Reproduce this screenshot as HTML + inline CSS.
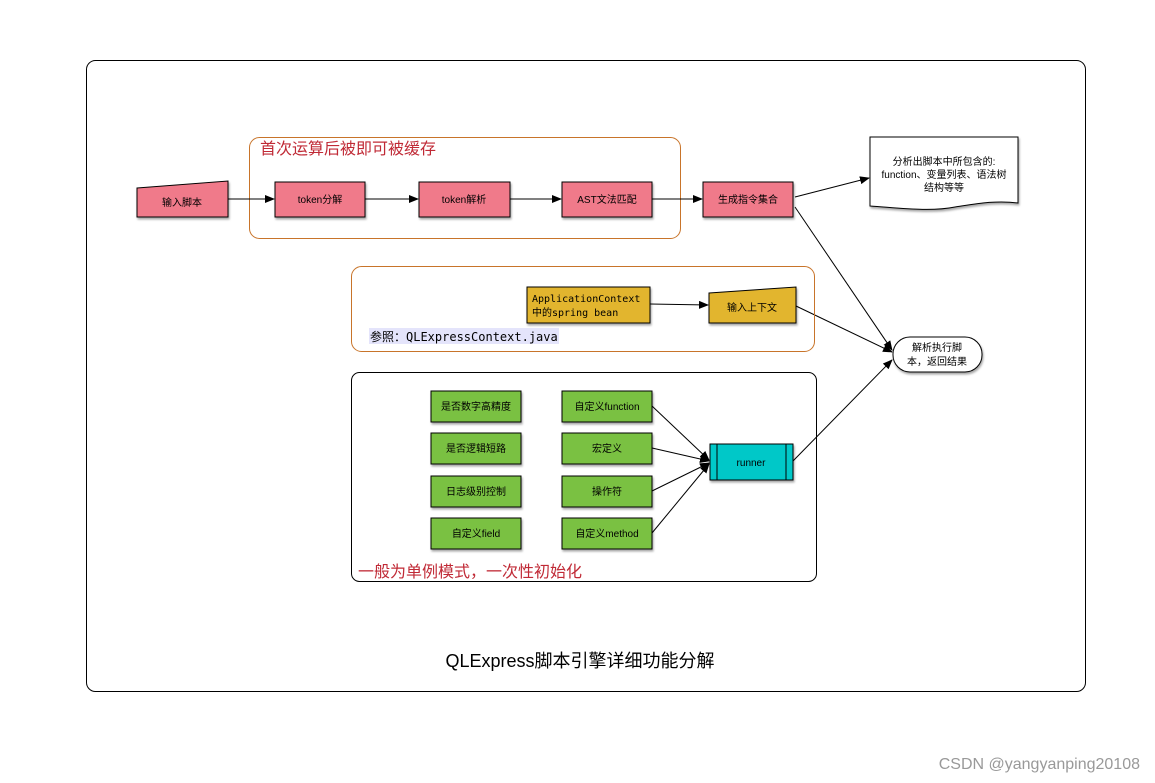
<!DOCTYPE html>
<html><head><meta charset="utf-8"><style>
html,body{margin:0;padding:0;background:#fff;width:1155px;height:783px;overflow:hidden}
text{font-family:"Liberation Sans","Noto Sans CJK SC",sans-serif}
</style></head><body>
<svg width="1155" height="783" viewBox="0 0 1155 783" xmlns="http://www.w3.org/2000/svg">
<defs>
<marker id="a" markerWidth="10" markerHeight="8" refX="9" refY="4" orient="auto" markerUnits="userSpaceOnUse"><path d="M0,0 L10,4 L0,8 z" fill="#000"/></marker>
<filter id="s" x="-10%" y="-10%" width="130%" height="140%"><feDropShadow dx="1" dy="2" stdDeviation="1" flood-color="#000" flood-opacity="0.35"/></filter>
</defs>
<rect x="86.5" y="60.5" width="999" height="631" rx="9" fill="none" stroke="#000" stroke-width="1"/>
<rect x="249.5" y="137.5" width="431" height="101" rx="10" fill="none" stroke="#c8742a" stroke-width="1"/>
<text x="260" y="154" font-size="16" fill="#c02a36">首次运算后被即可被缓存</text>

<g font-size="10" text-anchor="middle" fill="#000">
<path d="M137,188 L228,181 L228,217 L137,217 z" fill="#f07a8a" stroke="#000" filter="url(#s)"/>
<text x="182" y="206">输入脚本</text>
<rect x="275" y="182" width="90" height="35" fill="#f07a8a" stroke="#000" filter="url(#s)"/>
<text x="320" y="203">token分解</text>
<rect x="419" y="182" width="91" height="35" fill="#f07a8a" stroke="#000" filter="url(#s)"/>
<text x="464" y="203">token解析</text>
<rect x="562" y="182" width="90" height="35" fill="#f07a8a" stroke="#000" filter="url(#s)"/>
<text x="607" y="203">AST文法匹配</text>
<rect x="703" y="182" width="90" height="35" fill="#f07a8a" stroke="#000" filter="url(#s)"/>
<text x="748" y="203">生成指令集合</text>
</g>
<g stroke="#000" stroke-width="1" fill="none" marker-end="url(#a)">
<line x1="228" y1="199" x2="274" y2="199"/>
<line x1="365" y1="199" x2="418" y2="199"/>
<line x1="510" y1="199" x2="561" y2="199"/>
<line x1="652" y1="199" x2="702" y2="199"/>
<line x1="795" y1="197" x2="869" y2="178"/>
<line x1="795" y1="207" x2="892" y2="350"/>
<line x1="796" y1="306" x2="892" y2="352"/>
<line x1="793" y1="461" x2="892" y2="360"/>
<line x1="650" y1="304" x2="708" y2="305"/>
</g>
<path d="M870,137 L1018,137 L1018,203 C995,200 975,204 955,207 C930,212 900,208 870,206 z" fill="#fff" stroke="#000" filter="url(#s)"/>
<g font-size="10" text-anchor="middle">
<text x="944" y="165">分析出脚本中所包含的:</text>
<text x="944" y="178">function、变量列表、语法树</text>
<text x="944" y="191">结构等等</text>
</g>

<rect x="351.5" y="266.5" width="463" height="85" rx="10" fill="none" stroke="#c8742a"/>
<rect x="527" y="287" width="123" height="36" fill="#e2b52e" stroke="#000" filter="url(#s)"/>
<text x="532" y="302" font-size="10" style="font-family:'DejaVu Sans Mono','Noto Sans CJK SC',monospace">ApplicationContext</text>
<text x="532" y="316" font-size="10" style="font-family:'DejaVu Sans Mono','Noto Sans CJK SC',monospace">中的spring bean</text>
<path d="M709,293 L796,287 L796,323 L709,323 z" fill="#e2b52e" stroke="#000" filter="url(#s)"/>
<text x="752" y="311" font-size="10" text-anchor="middle">输入上下文</text>
<rect x="369" y="328" width="190" height="16" fill="#e4e4fb"/>
<text x="370" y="341" font-size="12" style="font-family:'DejaVu Sans Mono','Noto Sans CJK SC',monospace">参照：QLExpressContext.java</text>

<rect x="893" y="337" width="89" height="35" rx="17" fill="#fff" stroke="#000" filter="url(#s)"/>
<text x="937" y="351" font-size="10" text-anchor="middle">解析执行脚</text>
<text x="937" y="365" font-size="10" text-anchor="middle">本，返回结果</text>

<rect x="351.5" y="372.5" width="465" height="209" rx="8" fill="none" stroke="#000"/>
<g font-size="10" text-anchor="middle">
<rect x="431" y="391" width="90" height="31" fill="#7ac143" stroke="#000" filter="url(#s)"/><text x="476" y="410">是否数字高精度</text>
<rect x="431" y="433" width="90" height="31" fill="#7ac143" stroke="#000" filter="url(#s)"/><text x="476" y="452">是否逻辑短路</text>
<rect x="431" y="476" width="90" height="31" fill="#7ac143" stroke="#000" filter="url(#s)"/><text x="476" y="495">日志级别控制</text>
<rect x="431" y="518" width="90" height="31" fill="#7ac143" stroke="#000" filter="url(#s)"/><text x="476" y="537">自定义field</text>
<rect x="562" y="391" width="90" height="31" fill="#7ac143" stroke="#000" filter="url(#s)"/><text x="607" y="410">自定义function</text>
<rect x="562" y="433" width="90" height="31" fill="#7ac143" stroke="#000" filter="url(#s)"/><text x="607" y="452">宏定义</text>
<rect x="562" y="476" width="90" height="31" fill="#7ac143" stroke="#000" filter="url(#s)"/><text x="607" y="495">操作符</text>
<rect x="562" y="518" width="90" height="31" fill="#7ac143" stroke="#000" filter="url(#s)"/><text x="607" y="537">自定义method</text>
<rect x="710" y="444" width="83" height="36" fill="#00c8c8" stroke="#000" filter="url(#s)"/>
<line x1="717" y1="444" x2="717" y2="480" stroke="#000"/>
<line x1="786" y1="444" x2="786" y2="480" stroke="#000"/>
<text x="751" y="466">runner</text>
</g>
<g stroke="#000" fill="none" marker-end="url(#a)">
<line x1="652" y1="406" x2="709" y2="460"/>
<line x1="652" y1="448" x2="709" y2="461"/>
<line x1="652" y1="491" x2="709" y2="463"/>
<line x1="652" y1="533" x2="709" y2="464"/>
</g>
<text x="358" y="577" font-size="16" fill="#c02a36">一般为单例模式，一次性初始化</text>

<text x="580" y="667" font-size="18" text-anchor="middle">QLExpress脚本引擎详细功能分解</text>
<text x="1140" y="769" font-size="16" text-anchor="end" fill="#999">CSDN @yangyanping20108</text>
</svg>
</body></html>
